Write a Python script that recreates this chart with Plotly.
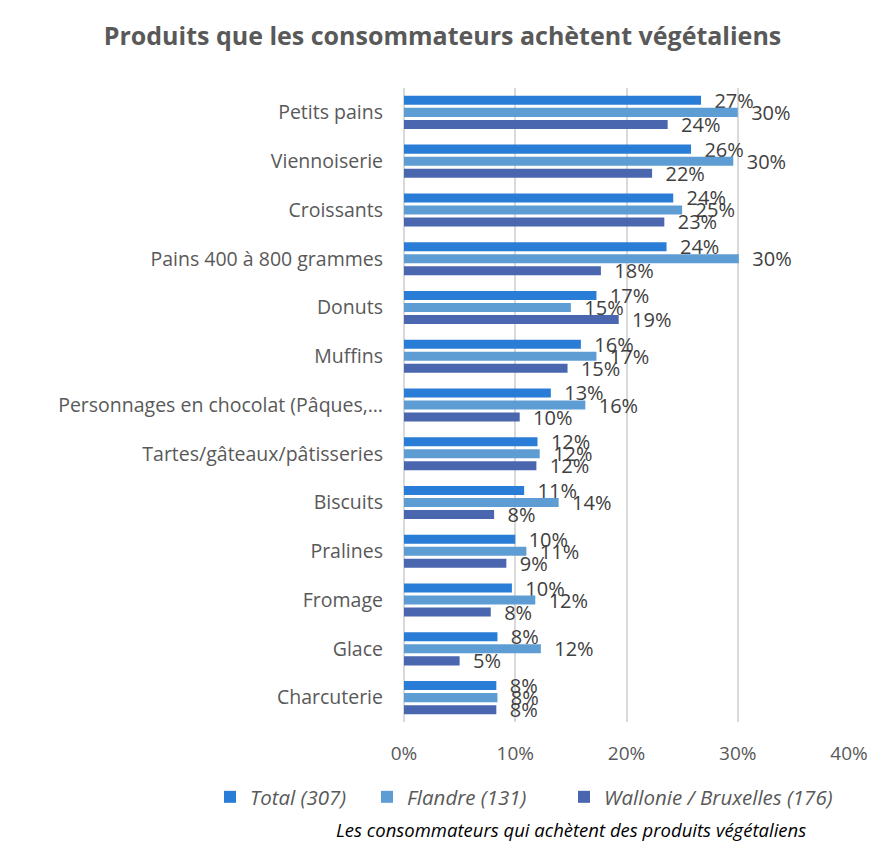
import plotly.graph_objects as go

categories = [
    "Petits pains", "Viennoiserie", "Croissants", "Pains 400 à 800 grammes",
    "Donuts", "Muffins", "Personnages en chocolat (Pâques,…",
    "Tartes/gâteaux/pâtisseries", "Biscuits", "Pralines", "Fromage",
    "Glace", "Charcuterie",
]
total = [0.267, 0.258, 0.242, 0.236, 0.173, 0.159, 0.132, 0.120, 0.108, 0.100, 0.097, 0.084, 0.083]
flandre = [0.300, 0.296, 0.250, 0.301, 0.150, 0.173, 0.163, 0.122, 0.139, 0.110, 0.118, 0.123, 0.084]
wallonie = [0.237, 0.223, 0.234, 0.177, 0.193, 0.147, 0.104, 0.119, 0.081, 0.092, 0.078, 0.050, 0.083]
series_names = ["Total (307)", "Flandre (131)", "Wallonie / Bruxelles (176)"]
colors = ["#2A7DD6", "#5E9DD3", "#4A66AE"]
x_ticks = [0, 0.1, 0.2, 0.3, 0.4]
x_ticklabels = ["0%", "10%", "20%", "30%", "40%"]

FONT = "Open Sans"
GREY = "#595959"

legend_ids = ["legend", "legend2", "legend3"]
legend_px = [210, 367, 564]  # left edge of each legend box in pixels

fig = go.Figure()
for name, vals, col, lid in zip(series_names, [total, flandre, wallonie], colors, legend_ids):
    fig.add_trace(go.Bar(
        y=categories, x=vals, name=name, orientation="h",
        marker=dict(color=col, line=dict(width=0)),
        texttemplate="\u00a0\u00a0%{x:.0%}", textposition="outside",
        constraintext="none", cliponaxis=False,
        textfont=dict(family=FONT, size=20, color="#404040"),
        hoverinfo="skip", legend=lid,
    ))

legend_common = dict(orientation="h", xref="paper", yref="paper", xanchor="left",
                     y=-(797 - 722) / 634, yanchor="middle",
                     font=dict(family=FONT, size=20.5, color=GREY, style="italic"),
                     itemwidth=30, bgcolor="rgba(0,0,0,0)")

fig.update_layout(
    width=885, height=854,
    margin=dict(l=404, r=36, t=88, b=132, autoexpand=False),
    paper_bgcolor="white", plot_bgcolor="white",
    barmode="group", bargap=0.26, bargroupgap=0.25,
    title=dict(text="<b>Produits que les consommateurs achètent végétaliens</b>",
               x=0.5, xanchor="center", y=1 - 36 / 854, yanchor="middle",
               font=dict(family=FONT, size=25, color=GREY)),
    xaxis=dict(range=[0, 0.4], tickvals=x_ticks, ticktext=x_ticklabels,
               showgrid=True, gridcolor="#D9D9D9", gridwidth=2,
               zeroline=True, zerolinecolor="#D9D9D9", zerolinewidth=2,
               showline=False, ticks="", ticklabelstandoff=18,
               tickfont=dict(family=FONT, size=19, color=GREY)),
    yaxis=dict(autorange="reversed", showgrid=False, showline=False,
               ticks="", ticklabelstandoff=20,
               tickfont=dict(family=FONT, size=19.5, color=GREY)),
    legend=dict(legend_common, x=(legend_px[0] - 404) / 445),
    legend2=dict(legend_common, x=(legend_px[1] - 404) / 445),
    legend3=dict(legend_common, x=(legend_px[2] - 404) / 445),
    annotations=[dict(text="<i>Les consommateurs qui achètent des produits végétaliens</i>",
                      xref="paper", yref="paper", x=(571 - 404) / 445, y=-(829 - 722) / 634,
                      xanchor="center", yanchor="middle", showarrow=False,
                      font=dict(family=FONT, size=18.5, color="#000000"))],
    showlegend=True,
)

fig.write_html("out.html", config={"displayModeBar": False},
               post_script="document.body.style.margin='0';")
